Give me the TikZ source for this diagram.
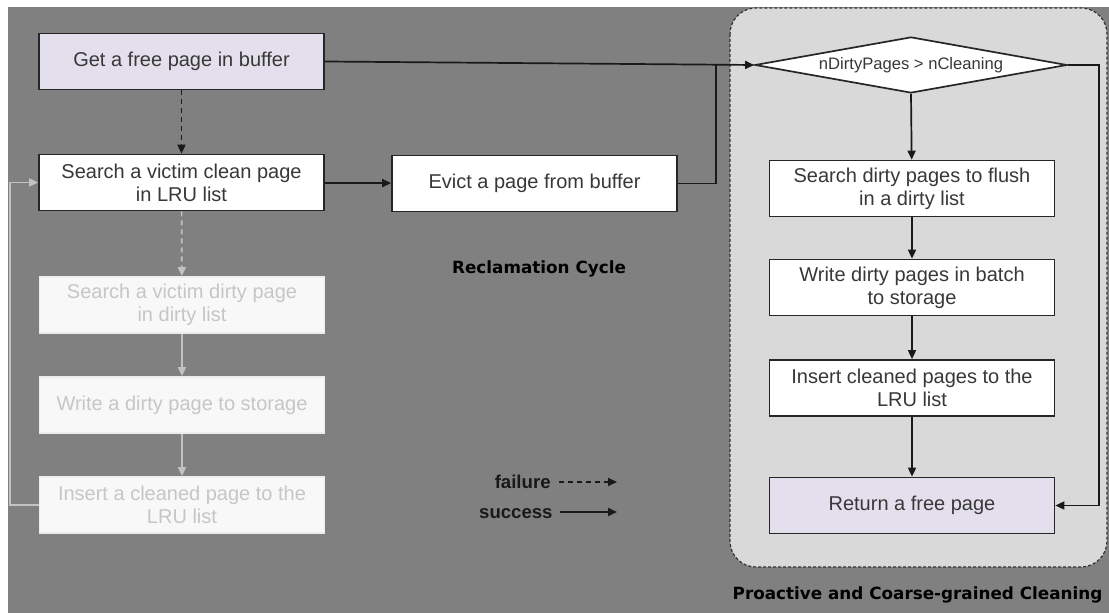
\documentclass[tikz,border=0pt]{standalone}
\usepackage{fontspec}
\setmainfont{Liberation Sans}
\newfontfamily\headfont{DejaVu Sans}
\usetikzlibrary{shapes.geometric,arrows.meta}

\definecolor{bgdark}{HTML}{808080}
\definecolor{panelfill}{HTML}{D9D9D9}
\definecolor{lav}{HTML}{E4DFEC}
\definecolor{ink}{HTML}{383838}
\definecolor{ghost}{HTML}{C6C6C6}
\definecolor{ghostline}{HTML}{C2C2C2}
\definecolor{ghostfill}{HTML}{F8F8F8}

\begin{document}
\begin{tikzpicture}[x=0.5pt,y=-0.5pt,
  box/.style={draw=black!85, line width=0.85pt, fill=white,
    minimum width=142.5pt, minimum height=28pt, inner sep=0pt,
    align=center, text=ink, font=\fontsize{10}{11.5}\selectfont},
  hlbox/.style={box, fill=lav},
  ghostbox/.style={box, draw=ghostfill!80!ghostline, fill=ghostfill, text=ghost},
  decision/.style={diamond, draw=black!85, line width=0.85pt, fill=white,
    minimum width=156pt, minimum height=28pt, aspect=5.5, inner sep=0pt,
    text=ink, font=\fontsize{8.3}{9}\selectfont},
  flow/.style={-{Triangle[length=4.5pt,width=4pt]}, line width=0.85pt, draw=black!90},
  failflow/.style={flow, dash pattern=on 2.5pt off 2pt},
  ghostflow/.style={flow, draw=ghostline},
  ghostfail/.style={ghostflow, dash pattern=on 2.5pt off 2pt},
  title/.style={font=\headfont\bfseries\fontsize{8.4}{10}\selectfont, text=black},
  legend/.style={font=\bfseries\fontsize{9.3}{11}\selectfont, text=black!90, inner sep=0pt}]

% canvas
\useasboundingbox (0,0) rectangle (1109,613);
\fill[white] (0,0) rectangle (1109,613);
\fill[bgdark] (8,7) rectangle (1109,613);

% cleaning panel
\draw[fill=panelfill, draw=black!80, line width=0.6pt,
      dash pattern=on 1.5pt off 1pt, rounded corners=13pt]
  (730,8) rectangle (1107,567);

% reclamation cycle
\node[hlbox] (getfree) at (181.5,61.5) {Get a free page in buffer};
\node[box] (srchclean) at (181.5,182.5) {Search a victim clean page\\in LRU list};
\node[box] (evict) at (534.5,183.5) {Evict a page from buffer};
\node[ghostbox] (srchdirty) at (182,305) {Search a victim dirty page\\in dirty list};
\node[ghostbox] (writeone) at (182,405) {Write a dirty page to storage};
\node[ghostbox] (insertone) at (182,505) {Insert a cleaned page to the\\LRU list};

% proactive cleaning
\node[decision] (cond) at (911,65) {nDirtyPages > nCleaning};
\node[box] (flushsrch) at (912,188.5) {Search dirty pages to flush\\in a dirty list};
\node[box] (batch) at (912,287.5) {Write dirty pages in batch\\to storage};
\node[box] (insertmany) at (912,388) {Insert cleaned pages to the\\LRU list};
\node[hlbox] (ret) at (912,505.5) {Return a free page};

% labels
\node[title] (rctitle) at (539,269) {Reclamation Cycle};
\node[title] (pctitle) at (917.5,595) {Proactive and Coarse-grained Cleaning};

% connectors
\coordinate (merge) at (716,64.7);
\coordinate (bypass) at (1099,65);
\coordinate (loop) at (10,343);

\draw[failflow] (getfree) -- (srchclean);
\draw[flow] (srchclean) -- (evict);
\draw[flow] (getfree.east) -- (cond.west);
\draw[line width=0.85pt, draw=black!90] (evict.east) -| (merge);
\draw[ghostfail] (srchclean) -- (srchdirty);
\draw[ghostflow] (srchdirty) -- (writeone);
\draw[ghostflow] (writeone) -- (insertone);
\draw[ghostflow] (insertone.west) -| (loop) |- (srchclean.west);

\draw[flow] (cond.south) -- (flushsrch);
\draw[flow] (flushsrch) -- (batch);
\draw[flow] (batch) -- (insertmany);
\draw[flow] (insertmany) -- (ret);
\draw[flow] (cond.east) -- (bypass) |- (ret.east);

% legend
\node[legend, anchor=east] (failtxt) at (551,482) {failure};
\node[legend, anchor=east] (succtxt) at (553,514) {success};
\coordinate (failend) at (617,482);
\coordinate (succend) at (617,512);
\draw[failflow] ([xshift=4pt]failtxt.east) -- (failend);
\draw[flow] ([xshift=3.5pt]succtxt.east |- succend) -- (succend);
\end{tikzpicture}
\end{document}
